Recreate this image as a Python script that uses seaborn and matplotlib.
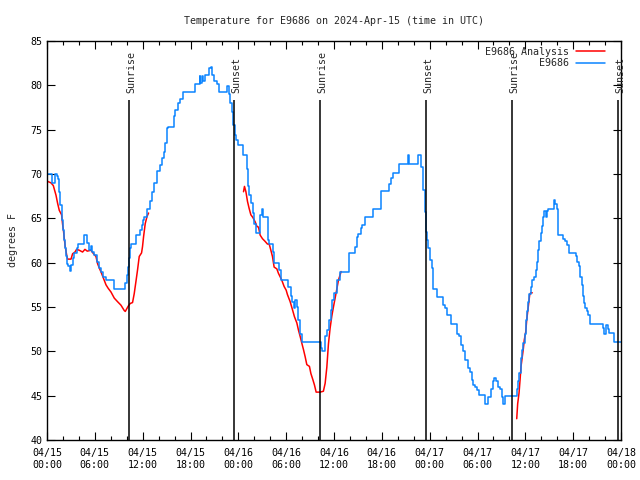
import numpy as np
import pandas as pd
import matplotlib
matplotlib.use("Agg")
import matplotlib.pyplot as plt
import matplotlib.dates as mdates
from matplotlib.lines import Line2D
import seaborn as sns

START = pd.Timestamp("2024-04-15 00:00")

# E9686 observations: hours since 04/15 00:00 UTC, degrees F (stepped)
obs_hours = [
    0.00, 0.58, 1.04, 1.23, 1.33, 1.54, 1.67, 1.83, 1.96, 2.08, 2.26, 2.38, 2.51, 2.67, 2.88,
    3.01, 3.21, 3.42, 3.71, 3.84, 4.59, 5.01, 5.21, 5.52, 5.64, 5.93, 6.22, 6.47, 6.77, 6.97,
    7.40, 8.44, 9.82, 9.98, 10.10, 10.23, 10.40, 10.53, 11.16, 11.70, 11.86, 12.03, 12.20,
    12.54, 12.95, 13.16, 13.36, 13.79, 14.12, 14.42, 14.62, 14.83, 15.04, 15.24, 15.87, 16.08,
    16.37, 16.71, 17.00, 18.59, 19.13, 19.22, 19.43, 19.63, 19.84, 20.38, 20.56, 20.72, 20.97,
    21.31, 21.60, 22.64, 22.85, 22.98, 23.19, 23.39, 23.52, 23.73, 24.02, 24.61, 25.07, 25.27,
    25.40, 25.61, 25.80, 25.99, 26.24, 26.68, 26.99, 27.12, 27.74, 27.87, 28.37, 28.50, 29.12,
    29.37, 30.25, 30.63, 30.75, 30.94, 31.13, 31.31, 31.50, 31.75, 31.94, 34.32, 34.51, 34.89,
    35.14, 35.39, 35.58, 35.77, 35.95, 36.35, 36.77, 37.90, 38.65, 38.86, 39.06, 39.36, 39.56,
    39.90, 40.90, 41.91, 42.91, 43.16, 43.41, 44.16, 45.28, 45.41, 46.51, 46.92, 47.21, 47.42,
    47.55, 47.64, 47.80, 48.05, 48.26, 48.39, 48.46, 48.89, 49.72, 49.93, 50.14, 50.68, 51.40,
    51.69, 51.94, 52.15, 52.44, 52.85, 53.06, 53.28, 53.48, 53.69, 53.98, 54.23, 54.98, 55.36,
    55.66, 55.91, 56.07, 56.32, 56.61, 56.82, 57.04, 57.24, 57.49, 58.99, 59.12, 59.24, 59.42,
    59.55, 59.75, 59.96, 60.09, 60.25, 60.37, 60.50, 60.67, 60.87, 61.13, 61.30, 61.43, 61.63,
    61.75, 61.93, 62.05, 62.25, 62.38, 62.55, 62.68, 62.88, 63.63, 63.76, 63.93, 64.06, 64.13,
    64.76, 64.97, 65.19, 65.48, 66.32, 66.52, 66.73, 66.89, 67.07, 67.19, 67.36, 67.48, 67.69,
    67.89, 68.11, 69.78, 69.90, 70.11, 70.32, 70.48, 71.15, 72.00,
]
obs_temps = [
    70.0, 69.0, 70.0, 69.8, 69.4, 68.0, 66.5, 64.8, 63.7, 62.6, 61.6, 60.7, 59.9, 59.6, 59.1,
    59.7, 60.5, 61.1, 61.6, 62.1, 63.1, 62.2, 61.4, 61.9, 61.2, 60.9, 60.1, 59.4, 59.0, 58.4,
    58.0, 57.0, 57.7, 58.6, 59.5, 60.5, 61.6, 62.1, 63.1, 63.7, 64.3, 64.8, 65.1,
    66.1, 66.9, 68.0, 69.0, 70.3, 71.0, 71.8, 72.5, 73.5, 75.2, 75.3, 76.5, 77.2,
    78.0, 78.5, 79.2, 80.1, 81.1, 80.3, 81.1, 80.5, 81.2, 81.9, 82.1, 81.2, 80.5,
    80.1, 79.2, 79.9, 79.0, 78.0, 77.0, 75.5, 74.4, 73.8, 73.3, 72.1, 70.6, 68.6,
    67.6, 66.7, 65.6, 64.4, 63.3, 65.4, 66.1, 65.1, 62.6, 62.1, 61.2, 60.0, 59.2,
    58.0, 57.3, 56.2, 55.6, 54.9, 55.8, 55.0, 53.5, 52.0, 51.1, 50.4, 50.0, 51.7,
    52.4, 53.5, 54.7, 55.8, 56.6, 58.0, 59.0, 61.1, 61.8, 62.9, 63.2, 63.9, 64.3,
    65.1, 66.1, 68.1, 68.9, 69.5, 70.1, 71.1, 72.1, 71.1, 72.1, 70.8, 68.2, 65.7,
    63.5, 62.6, 61.6, 60.3, 59.4, 58.0, 57.0, 56.1, 55.2, 54.9, 54.1, 53.1, 52.0,
    51.7, 50.7, 50.0, 49.0, 48.1, 47.7, 46.8, 46.2, 46.0, 45.6, 45.1, 44.1, 44.8,
    45.8, 46.6, 47.0, 46.6, 46.0, 45.8, 44.9, 44.1, 45.0, 45.8, 46.6, 47.6, 49.2,
    50.2, 50.9, 52.0, 53.5, 54.5, 55.6, 56.5, 57.3, 58.0, 58.4, 59.2, 60.1, 61.4,
    62.4, 63.3, 64.1, 65.2, 65.8, 65.2, 65.8, 66.1, 67.1, 66.6, 66.1, 64.3, 63.1,
    62.7, 62.4, 62.0, 61.1, 60.7, 60.1, 59.6, 58.4, 57.5, 56.2, 55.4, 54.9, 54.5,
    54.1, 53.1, 52.6, 52.0, 53.0, 52.5, 52.1, 51.0, 51.0,
]

# E9686 Analysis: three separate pieces
ana_hours_1 = [0.00, 0.50, 0.79, 1.13, 1.33, 1.54, 1.83, 1.96, 2.08, 2.17, 2.29, 2.46, 2.58, 3.01,
               3.21, 3.51, 3.71, 4.05, 4.46, 4.76, 5.05, 5.52, 5.84, 6.14, 6.34, 6.56, 6.84, 7.10,
               7.40, 7.68, 8.02, 8.44, 8.85, 9.28, 9.69, 9.82, 10.19, 10.44, 10.73, 10.94, 11.16,
               11.36, 11.57, 11.86, 11.98, 12.11, 12.32, 12.54, 12.74]
ana_temps_1 = [69.2, 69.0, 68.7, 67.6, 66.7, 65.9, 65.4, 64.3, 63.5, 62.7, 61.8, 60.9, 60.4, 60.4,
               61.0, 61.2, 61.5, 61.4, 61.2, 61.5, 61.3, 61.4, 61.0, 60.7, 59.9, 59.4, 58.8, 58.2,
               57.5, 57.1, 56.7, 56.0, 55.6, 55.2, 54.6, 54.5, 55.1, 55.4, 55.5, 56.5, 57.9,
               59.2, 60.7, 61.1, 61.8, 62.9, 64.4, 65.2, 65.6]
ana_hours_2 = [24.65, 24.77, 24.95, 25.15, 25.36, 25.57, 25.82, 26.11, 26.33, 26.53, 26.74, 27.03,
               27.36, 27.65, 27.87, 28.08, 28.28, 28.49, 28.83, 29.03, 29.25, 29.46, 29.75, 30.00,
               30.16, 30.50, 30.79, 31.04, 31.34, 31.54, 31.75, 31.97, 32.17, 32.38, 32.59, 32.92,
               33.10, 33.35, 33.55, 33.76, 34.26, 34.67, 34.89, 35.10, 35.30, 35.51, 35.73, 35.93,
               36.14, 36.35, 36.55, 36.76, 36.89]
ana_temps_2 = [68.0, 68.6, 68.0, 66.9, 66.1, 65.4, 65.1, 64.6, 64.1, 64.0, 63.1, 62.7,
               62.4, 62.1, 62.1, 61.4, 60.7, 59.5, 59.3, 58.8, 58.4, 58.0, 57.3, 56.9,
               56.4, 55.6, 54.7, 53.9, 53.2, 52.4, 51.7, 50.9, 50.2, 49.4, 48.5, 48.3,
               47.5, 46.8, 46.2, 45.4, 45.4, 45.5, 46.4, 48.2, 50.8, 52.6, 54.0, 55.0,
               56.0, 57.0, 58.0, 58.6, 59.0]
ana_hours_3 = [58.92, 59.04, 59.21, 59.34, 59.46, 59.62, 59.75, 59.87, 60.05, 60.17, 60.30, 60.42,
               60.55, 60.67, 60.87]
ana_temps_3 = [42.4, 44.1, 45.3, 46.8, 48.3, 49.4, 50.3, 51.3, 52.2, 53.5, 54.5, 55.4,
               56.4, 56.6, 56.6]

# sun events (hours since start)
sun_hours = [10.32, 23.49, 34.28, 47.57, 58.37, 71.66]
sun_labels = ["Sunrise", "Sunset", "Sunrise", "Sunset", "Sunrise", "Sunset"]

BLUE = "#0a84ff"
RED = "#ff0000"
MONO = ["DejaVu Sans Mono"]
FS = 7.2


def to_time(hours):
    return START + pd.to_timedelta(np.array(hours), unit="h")


obs_df = pd.DataFrame({"time": to_time(obs_hours), "temp": obs_temps})
ana_df = pd.concat([
    pd.DataFrame({"time": to_time(h), "temp": t, "seg": i})
    for i, (h, t) in enumerate([(ana_hours_1, ana_temps_1),
                                (ana_hours_2, ana_temps_2),
                                (ana_hours_3, ana_temps_3)])
], ignore_index=True)

sns.set_style("ticks")
plt.rcParams["font.family"] = MONO
plt.rcParams["font.size"] = FS

fig = plt.figure(figsize=(6.4, 4.8), dpi=100)
ax = fig.add_axes([47 / 640, 1 - 440 / 480, 574 / 640, 399 / 480])

sns.lineplot(data=ana_df, x="time", y="temp", units="seg", estimator=None,
             color=RED, lw=1.1, ax=ax)
sns.lineplot(data=obs_df, x="time", y="temp", color=BLUE, lw=1.1,
             drawstyle="steps-post", ax=ax)

# sunrise / sunset markers
line_top = 78.35
for h, lab in zip(sun_hours, sun_labels):
    t = START + pd.Timedelta(hours=h)
    ax.vlines(t, 40, line_top, color="black", lw=1.1, zorder=3)
    ax.annotate(lab, xy=(t, line_top), xytext=(1.5, 5), textcoords="offset points",
                rotation=90, ha="center", va="bottom", fontsize=FS, family=MONO)

ax.set_xlim(START, START + pd.Timedelta(hours=72))
ax.set_ylim(40, 85)
ax.set_yticks(np.arange(40, 86, 5))
ax.xaxis.set_major_locator(mdates.HourLocator(byhour=[0, 6, 12, 18]))
ax.xaxis.set_minor_locator(mdates.HourLocator(interval=2))
ax.xaxis.set_major_formatter(mdates.DateFormatter("%m/%d\n%H:%M"))

ax.tick_params(which="both", direction="in", top=True, right=True, colors="black",
               labelsize=FS, width=0.8)
ax.tick_params(which="major", length=6)
ax.tick_params(which="minor", length=3)
ax.tick_params(axis="x", pad=6)
for lbl in ax.get_xticklabels() + ax.get_yticklabels():
    lbl.set_family(MONO)
for sp in ax.spines.values():
    sp.set_color("black")
    sp.set_linewidth(1.0)

ax.set_xlabel("")
ax.set_ylabel("degrees F", fontsize=FS, family=MONO, labelpad=9)
ax.set_title("Temperature for E9686 on 2024-Apr-15 (time in UTC)", fontsize=FS,
             family=MONO, pad=12)

handles = [Line2D([], [], color=RED, lw=1.1), Line2D([], [], color=BLUE, lw=1.1)]
ax.legend(handles, ["E9686 Analysis", "E9686"], loc="upper right", frameon=False,
          markerfirst=False, handlelength=2.9, prop={"family": MONO, "size": FS},
          borderaxespad=0.2, labelspacing=0.15, handletextpad=0.7,
          bbox_to_anchor=(0.983, 1.0))

fig.savefig("out.png", dpi=100)
